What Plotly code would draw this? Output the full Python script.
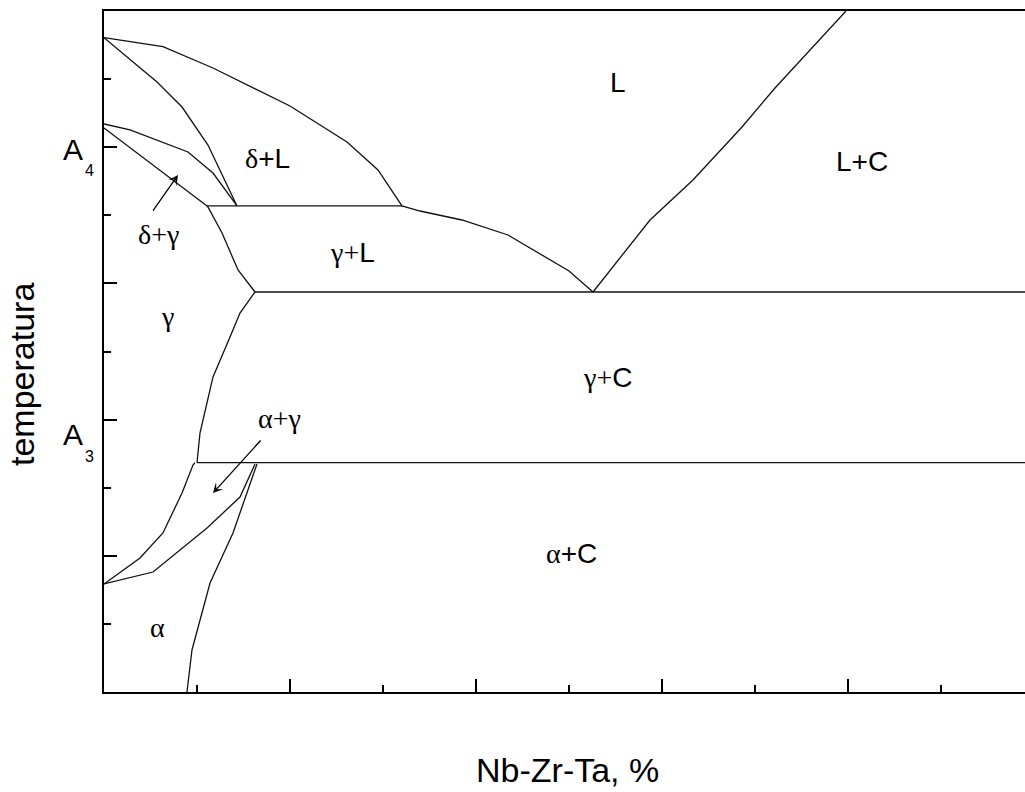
import plotly.graph_objects as go

# Axis extents (composition and temperature in arbitrary units)
X_MAX = 9.903
Y_MAX = 10.0

# delta liquidus continuing as gamma liquidus down to the eutectic point
liq_x = [0.0, 0.634, 1.172, 2.0, 2.613, 2.946, 3.204, 3.398, 3.849, 4.344, 5.0, 5.258]
liq_y = [9.608, 9.476, 9.163, 8.605, 8.076, 7.665, 7.137, 7.063, 6.931, 6.711, 6.182, 5.874]

# carbide liquidus, from the eutectic point up to the top of the diagram
liq_c_x = [5.258, 5.871, 6.333, 6.860, 7.215, 7.656, 7.978]
liq_c_y = [5.874, 6.931, 7.518, 8.297, 8.869, 9.530, 10.0]

# delta solidus
sol_d_x = [0.0, 0.570, 0.839, 1.118, 1.430]
sol_d_y = [9.608, 8.957, 8.590, 8.032, 7.137]

# delta / (delta + gamma) boundary
d_dg_x = [0.0, 0.280, 0.903, 1.172, 1.430]
d_dg_y = [8.341, 8.253, 7.930, 7.621, 7.137]

# gamma / (delta + gamma) boundary
g_dg_x = [0.0, 1.108]
g_dg_y = [8.282, 7.137]

# gamma / (gamma + L) boundary
g_gl_x = [1.108, 1.118, 1.269, 1.441, 1.624]
g_gl_y = [7.137, 7.122, 6.740, 6.197, 5.874]

# gamma / (gamma + C) boundary
g_gc_x = [1.624, 1.462, 1.355, 1.172, 1.032, 1.0]
g_gc_y = [5.874, 5.565, 5.213, 4.626, 3.803, 3.367]

# gamma / (alpha + gamma) boundary
g_ag_x = [0.978, 0.957, 0.839, 0.634, 0.387, 0.0]
g_ag_y = [3.367, 3.333, 2.922, 2.335, 1.968, 1.586]

# alpha / (alpha + gamma) boundary
a_ag_x = [0.0, 0.527, 1.108, 1.462, 1.624]
a_ag_y = [1.586, 1.762, 2.408, 2.863, 3.348]

# alpha / (alpha + C) solvus
a_ac_x = [1.645, 1.387, 1.140, 0.946, 0.892]
a_ac_y = [3.348, 2.335, 1.601, 0.617, 0.0]

# invariant (horizontal) lines: start x, end x, temperature
peritectic = (1.108, 3.204, 7.137)
eutectic = (1.624, X_MAX, 5.874)
eutectoid = (1.0, X_MAX, 3.367)

curves = [
    (liq_x, liq_y), (liq_c_x, liq_c_y), (sol_d_x, sol_d_y), (d_dg_x, d_dg_y),
    (g_dg_x, g_dg_y), (g_gl_x, g_gl_y), (g_gc_x, g_gc_y), (g_ag_x, g_ag_y),
    (a_ag_x, a_ag_y), (a_ac_x, a_ac_y),
]

fig = go.Figure()
LINE = dict(color="#111111", width=1.3)

for xs, ys in curves:
    fig.add_trace(go.Scatter(x=xs, y=ys, mode="lines", line=LINE,
                             showlegend=False, hoverinfo="skip"))

for x0, x1, t in (peritectic, eutectic, eutectoid):
    fig.add_trace(go.Scatter(x=[x0, x1], y=[t, t], mode="lines", line=LINE,
                             showlegend=False, hoverinfo="skip"))

SANS = "Liberation Sans"
SERIF = "Liberation Serif"


def greek(s):
    return f'<span style="font-family:{SERIF}">{s}</span>'


PLUS_SERIF = greek("+")

# phase-field labels: text, x, y
phase_labels = [
    ("L", 5.527, 8.957),
    ("L+C", 8.151, 7.783),
    (greek("δ") + "+L", 1.763, 7.841),
    (greek("δ") + PLUS_SERIF + greek("γ"), 0.581, 6.725),
    (greek("γ") + PLUS_SERIF + "L", 2.667, 6.461),
    (greek("γ"), 0.688, 5.521),
    (greek("γ") + PLUS_SERIF + "C", 5.409, 4.611),
    (greek("α") + PLUS_SERIF + greek("γ"), 1.892, 4.023),
    (greek("α") + "+C", 5.032, 2.041),
    (greek("α"), 0.570, 0.940),
]

annotations = []
for text, x, y in phase_labels:
    annotations.append(dict(text=text, x=x, y=y, xref="x", yref="y",
                            showarrow=False, xanchor="center", yanchor="middle",
                            font=dict(family=SANS, size=28, color="black")))

# pointer arrows: head (x, y) and tail (ax, ay)
arrows = [
    (0.796, 7.592, 0.516, 7.048),
    (1.172, 2.922, 1.699, 3.715),
]
for x, y, ax, ay in arrows:
    annotations.append(dict(text="", x=x, y=y, ax=ax, ay=ay, xref="x", yref="y",
                            axref="x", ayref="y", showarrow=True, arrowhead=3,
                            arrowsize=1.3, arrowwidth=1.3, arrowcolor="black",
                            standoff=0, startstandoff=0))

# critical temperature marks beside the temperature axis
for main, sub, py in (("A", "4", 149), ("A", "3", 435)):
    annotations.append(dict(text=main, x=73, y=py, xref="paper", yref="paper",
                            showarrow=False, font=dict(family=SANS, size=30, color="black"),
                            xanchor="center", yanchor="middle"))
    annotations.append(dict(text=sub, x=89, y=py + 21, xref="paper", yref="paper",
                            showarrow=False, font=dict(family=SANS, size=16, color="black"),
                            xanchor="center", yanchor="middle"))

# axis titles
annotations.append(dict(text="Nb-Zr-Ta, %", x=567, y=770, xref="paper", yref="paper",
                        showarrow=False, font=dict(family=SANS, size=34, color="black"),
                        xanchor="center", yanchor="middle"))
annotations.append(dict(text="temperatura", x=22, y=375, xref="paper", yref="paper",
                        showarrow=False, textangle=-90,
                        font=dict(family=SANS, size=34, color="black"),
                        xanchor="center", yanchor="middle"))

W, H = 1025, 792
ML, MR, MT, MB = 104, 0, 11, 100

# paper-positioned annotations were given in pixels; convert to paper fractions
pw, ph = W - ML - MR, H - MT - MB
for a in annotations:
    if a.get("xref") == "paper":
        a["x"] = (a["x"] - ML) / pw
        a["y"] = (H - MB - a["y"]) / ph

fig.update_layout(
    width=W, height=H,
    margin=dict(l=ML, r=MR, t=MT, b=MB),
    paper_bgcolor="white", plot_bgcolor="white",
    annotations=annotations,
    xaxis=dict(range=[0, X_MAX], showgrid=False, zeroline=False,
               showline=True, linecolor="black", linewidth=2, mirror=True,
               tickmode="linear", tick0=0, dtick=2, ticks="inside",
               ticklen=13, tickwidth=2, tickcolor="black", showticklabels=False,
               minor=dict(dtick=1, tick0=0, ticks="inside", ticklen=7,
                          tickwidth=2, tickcolor="black", showgrid=False)),
    yaxis=dict(range=[0, Y_MAX], showgrid=False, zeroline=False,
               showline=True, linecolor="black", linewidth=2, mirror=False,
               tickmode="linear", tick0=0, dtick=2, ticks="inside",
               ticklen=13, tickwidth=2, tickcolor="black", showticklabels=False,
               minor=dict(dtick=1, tick0=0, ticks="inside", ticklen=7,
                          tickwidth=2, tickcolor="black", showgrid=False)),
)

fig.write_html("out.html")
